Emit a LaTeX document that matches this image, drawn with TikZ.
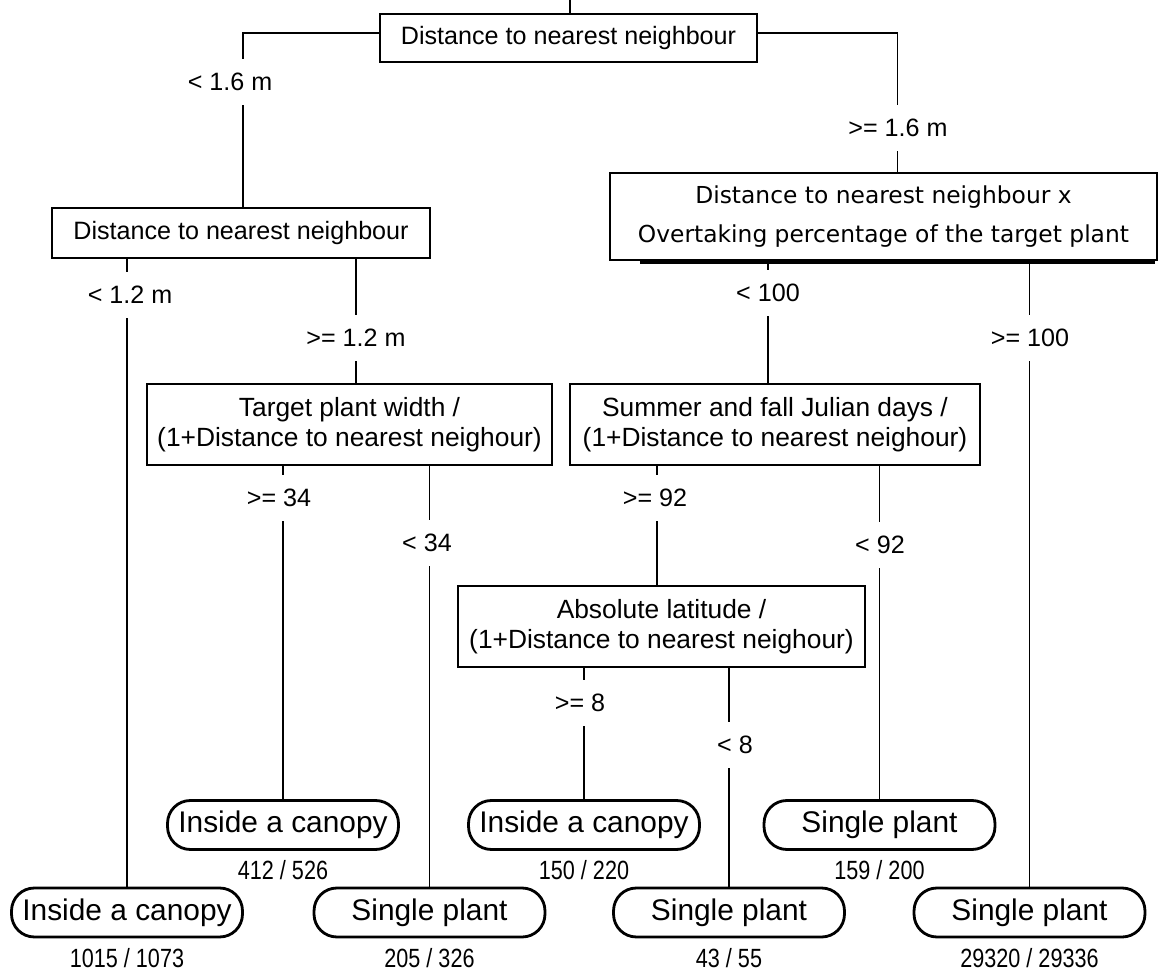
\documentclass[tikz,border=0pt]{standalone}
\usepackage{fontspec}
\setmainfont{Liberation Sans}
\newfontfamily\narrowfont[FakeStretch=0.82]{Liberation Sans}
\newfontfamily\dvfont{DejaVu Sans}
\usetikzlibrary{positioning}
\tikzstyle{split}=[draw,line width=1.1pt,rectangle,fill=white,inner sep=0pt,align=center,font=\fontsize{14.3}{17}\selectfont]
\tikzstyle{twoline}=[split,font=\fontsize{15}{17}\selectfont,minimum height=1.62cm]
\tikzstyle{leaf}=[draw,line width=1.6pt,rectangle,rounded corners=13pt,fill=white,minimum width=4.62cm,minimum height=0.98cm,inner sep=0pt,font=\fontsize{17}{20}\selectfont]
\tikzstyle{cond}=[fill=white,inner xsep=3pt,inner ysep=8pt,font=\fontsize{14.3}{17}\selectfont]
\tikzstyle{count}=[inner sep=0pt,font=\narrowfont\fontsize{15}{18}\selectfont]

\begin{document}
\begin{tikzpicture}[x=0.02cm,y=-0.02cm,line width=1pt]
\useasboundingbox (0,0) rectangle (1166,972);
% splits
\node[split,minimum width=7.54cm,minimum height=0.96cm] (top) at (568.5,38) {Distance to nearest neighbour};
\node[split,minimum width=7.56cm,minimum height=1cm] (dnn) at (241,233) {Distance to nearest neighbour};
\node[split,font=\dvfont\fontsize{13.3}{21}\selectfont,minimum width=10.94cm,minimum height=1.74cm] (over) at (883.5,216.5) {Distance to nearest neighbour x\\[1pt]Overtaking percentage of the target plant};
\draw[line width=1.4pt] ([xshift=0.62cm,yshift=-0.8pt]over.south west) -- ([xshift=-0.06cm,yshift=-0.8pt]over.south east);
\node[twoline,minimum width=8.1cm] (width) at (349.5,424.5) {Target plant width /\\(1+Distance to nearest neighour)};
\node[twoline,minimum width=8.2cm] (julian) at (775,424.5) {Summer and fall Julian days /\\(1+Distance to nearest neighour)};
\node[twoline,minimum width=8.14cm] (lat) at (661.5,626.5) {Absolute latitude /\\(1+Distance to nearest neighour)};
% leaves
\node[leaf] (canA) at (127,912.5) {Inside a canopy};
\node[leaf] (canB) at (283,825) {Inside a canopy};
\node[leaf] (sglC) at (429.5,912.5) {Single plant};
\node[leaf] (canD) at (584,825) {Inside a canopy};
\node[leaf] (sglE) at (879.5,825) {Single plant};
\node[leaf] (sglF) at (729,912.5) {Single plant};
\node[leaf] (sglG) at (1029.5,912.5) {Single plant};
% branches
\coordinate (root) at (570,0);
\draw (root) -- (root |- top.north);
\draw ([yshift=3pt]top.west) -| ([xshift=1pt]dnn.north);
\draw ([yshift=3pt]top.east) -| ([xshift=8pt]over.north);
\draw (canA.north) -- (canA.north |- dnn.south);
\draw ([xshift=3.5pt]width.north) -- ([xshift=3.5pt]width.north |- dnn.south);
\draw (canB.north) -- (canB.north |- width.south);
\draw (sglC.north) -- (sglC.north |- width.south);
\draw ([xshift=-4pt]julian.north) -- ([xshift=-4pt]julian.north |- over.south);
\draw (sglG.north) -- (sglG.north |- over.south);
\draw ([xshift=-2.5pt]lat.north) -- ([xshift=-2.5pt]lat.north |- julian.south);
\draw (sglE.north) -- (sglE.north |- julian.south);
\draw (canD.north) -- (canD.north |- lat.south);
\draw (sglF.north) -- (sglF.north |- lat.south);
% conditions
\node[cond] (c1) at (230,82) {< 1.6 m};
\node[cond] (c2) at (898,128) {>= 1.6 m};
\node[cond] (c3) at (130,295) {< 1.2 m};
\node[cond] (c4) at (356,338) {>= 1.2 m};
\node[cond] (c5) at (279,498) {>= 34};
\node[cond] (c6) at (427,543) {< 34};
\node[cond] (c7) at (768,293) {< 100};
\node[cond] (c8) at (1030,338) {>= 100};
\node[cond] (c9) at (655,498) {>= 92};
\node[cond] (c10) at (880,545) {< 92};
\node[cond] (c11) at (580,703) {>= 8};
\node[cond] (c12) at (735,745) {< 8};
% counts
\node[count,below=5pt of canA] (nA) {1015 / 1073};
\node[count,below=5pt of canB] (nB) {412 / 526};
\node[count,below=5pt of sglC] (nC) {205 / 326};
\node[count,below=5pt of canD] (nD) {150 / 220};
\node[count,below=5pt of sglE] (nE) {159 / 200};
\node[count,below=5pt of sglF] (nF) {43 / 55};
\node[count,below=5pt of sglG] (nG) {29320 / 29336};
\end{tikzpicture}
\end{document}
